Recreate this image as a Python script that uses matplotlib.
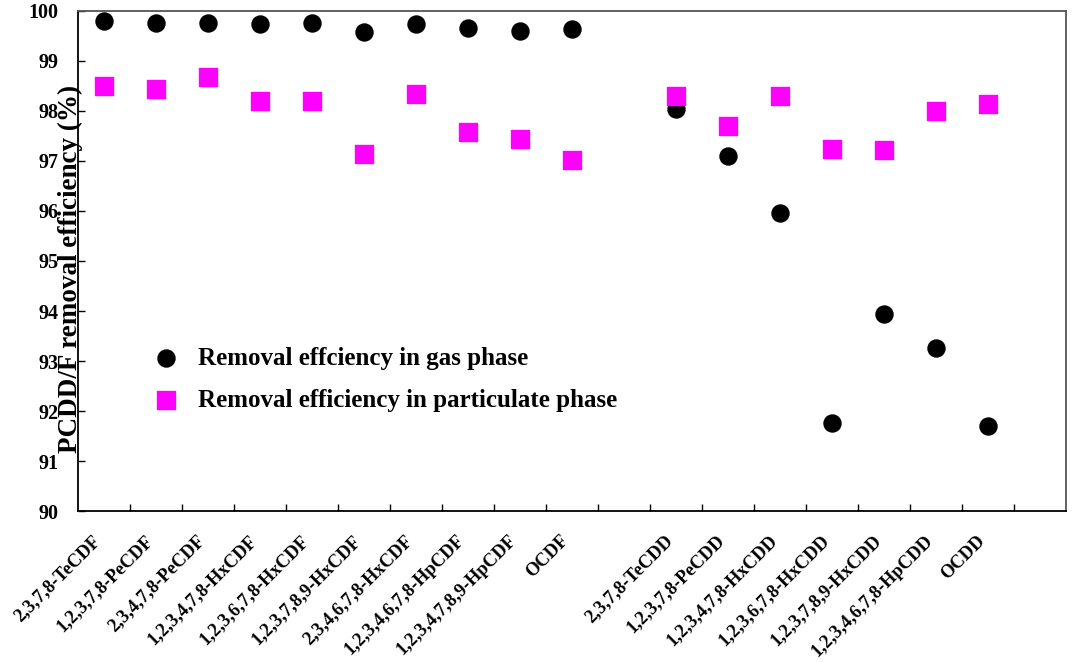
import numpy as np
import matplotlib
matplotlib.use("Agg")
import matplotlib.pyplot as plt

# congeners (furans, then a blank slot, then dioxins)
cdf_names = ["2,3,7,8-TeCDF", "1,2,3,7,8-PeCDF", "2,3,4,7,8-PeCDF", "1,2,3,4,7,8-HxCDF",
             "1,2,3,6,7,8-HxCDF", "1,2,3,7,8,9-HxCDF", "2,3,4,6,7,8-HxCDF",
             "1,2,3,4,6,7,8-HpCDF", "1,2,3,4,7,8,9-HpCDF", "OCDF"]
cdd_names = ["2,3,7,8-TeCDD", "1,2,3,7,8-PeCDD", "1,2,3,4,7,8-HxCDD", "1,2,3,6,7,8-HxCDD",
             "1,2,3,7,8,9-HxCDD", "1,2,3,4,6,7,8-HpCDD", "OCDD"]

gas_cdf = [99.80, 99.75, 99.75, 99.73, 99.75, 99.58, 99.73, 99.65, 99.59, 99.63]
gas_cdd = [98.03, 97.09, 95.96, 91.77, 93.95, 93.27, 91.70]
part_cdf = [98.49, 98.43, 98.67, 98.19, 98.20, 97.13, 98.34, 97.58, 97.44, 97.02]
part_cdd = [98.30, 97.69, 98.30, 97.24, 97.22, 98.00, 98.14]

plt.rcParams['font.family'] = ['Liberation Serif', 'DejaVu Serif']
plt.rcParams['font.weight'] = 'bold'

names = cdf_names + cdd_names
# one empty slot between the two groups, one at the end
x = np.concatenate([np.arange(len(cdf_names)), np.arange(len(cdd_names)) + len(cdf_names) + 1]) + 0.5
nslots = len(cdf_names) + len(cdd_names) + 2

gas = gas_cdf + gas_cdd
part = part_cdf + part_cdd

fig = plt.figure(figsize=(10.73, 6.62), dpi=100)
ax = fig.add_axes([0.0727, 0.228, 0.921, 0.7555])

ax.scatter(x, gas, marker='o', s=150, color='black', label='Removal effciency in gas phase', zorder=3)
ax.scatter(x, part, marker='s', s=150, color='#ff00ff', label='Removal efficiency in particulate phase', zorder=3)

ax.set_xlim(0, nslots)
ax.set_ylim(90, 100)
ax.set_yticks(np.arange(90, 101, 1))
ax.tick_params(axis='y', direction='in', length=5, width=1, labelsize=14.5, pad=14)

ax.set_xticks(np.arange(1, nslots))
ax.set_xticklabels([])
ax.tick_params(axis='x', which='major', direction='in', length=5, width=1)
ax.set_xticks(x, minor=True)
ax.set_xticklabels(names, minor=True, rotation=45, ha='right', va='top', fontsize=13.3, fontweight='bold')
ax.tick_params(axis='x', which='minor', length=0, pad=15)

for s in ['left', 'bottom']:
    ax.spines[s].set_linewidth(1.3)
    ax.spines[s].set_color('black')
for s in ['top', 'right']:
    ax.spines[s].set_linewidth(1.3)
    ax.spines[s].set_color('#555555')

# label sits over the tick numbers, as in the original figure
ax.set_ylabel('PCDD/F removal efficiency (%)', fontsize=19.5, fontweight='bold')
ax.yaxis.set_label_coords(0.005, 0.485)

ax.legend(loc='upper left', bbox_to_anchor=(0.066, 0.349), frameon=False,
          prop={'size': 18, 'weight': 'bold'}, labelspacing=0.76, handlelength=1.0,
          handletextpad=0.8, borderaxespad=0)

fig.savefig('out.png', dpi=100)
